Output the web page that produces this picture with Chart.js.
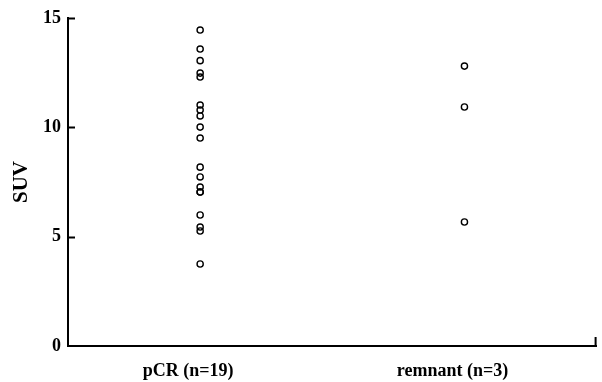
<!DOCTYPE html>
<html>
<head>
<meta charset="utf-8">
<script src="https://cdn.jsdelivr.net/npm/chart.js@4"></script>
<style>
html,body{margin:0;padding:0;background:#fff;}
#wrap{width:602px;height:382px;}
</style>
</head>
<body>
<div id="wrap"><canvas id="c" width="602" height="382"></canvas></div>
<script>
const categories = ['pCR (n=19)', 'remnant (n=3)'];
const pcrSUV = [14.45, 13.58, 13.05, 12.48, 12.30, 11.02, 10.79, 10.52, 10.01, 9.51, 8.18, 7.73, 7.27, 7.04, 7.04, 5.99, 5.44, 5.26, 3.75];
const remnantSUV = [12.80, 10.93, 5.67];
const yTicks = [0, 5, 10, 15];
const yTitle = 'SUV';

const inwardTicks = {
  id: 'inwardTicks',
  afterDraw(chart) {
    const ctx = chart.ctx, ys = chart.scales.y, ca = chart.chartArea;
    ctx.save();
    ctx.strokeStyle = '#000';
    ctx.lineWidth = 2;
    ctx.beginPath();
    yTicks.forEach(v => {
      if (v === 0) return;
      const py = Math.round(ys.getPixelForValue(v)) + 0.5;
      ctx.moveTo(ca.left, py);
      ctx.lineTo(ca.left + 7, py);
    });
    ctx.moveTo(ca.right - 1, ca.bottom);
    ctx.lineTo(ca.right - 1, ca.bottom - 9);
    ctx.stroke();
    ctx.restore();
  }
};

const font = {family: '"Liberation Serif", "Times New Roman", serif', weight: 'bold', size: 18};

new Chart(document.getElementById('c'), {
  type: 'scatter',
  data: {
    datasets: [
      {label: categories[0], data: pcrSUV.map(v => ({x: 1, y: v}))},
      {label: categories[1], data: remnantSUV.map(v => ({x: 2, y: v}))}
    ].map(d => Object.assign(d, {
      pointStyle: 'circle', pointRadius: 3.1, pointBorderWidth: 1.4,
      borderColor: '#000', backgroundColor: 'rgba(0,0,0,0)',
      pointBorderColor: '#000', pointBackgroundColor: 'rgba(0,0,0,0)'
    }))
  },
  options: {
    responsive: false,
    animation: false,
    devicePixelRatio: 1,
    layout: {padding: {top: 18, right: 1, left: 0, bottom: 0}},
    plugins: {legend: {display: false}, tooltip: {enabled: false}},
    scales: {
      x: {
        type: 'linear', min: 0.5, max: 2.5,
        afterBuildTicks(s) { s.ticks = [{value: 1}, {value: 2}]; },
        afterFit(s) { s.height = 36; },
        grid: {display: false, drawTicks: false},
        border: {display: true, color: '#000', width: 2},
        ticks: {
          color: '#000', font: font, padding: 15, labelOffset: -12,
          maxRotation: 0, autoSkip: false,
          callback: v => categories[Math.round(v) - 1]
        }
      },
      y: {
        min: 0, max: 15,
        afterBuildTicks(s) { s.ticks = yTicks.map(v => ({value: v})); },
        afterFit(s) { s.width = 68; },
        grid: {display: false, drawTicks: false},
        border: {display: true, color: '#000', width: 2},
        ticks: {color: '#000', font: font, padding: 7},
        title: {display: true, text: yTitle, color: '#000',
          font: {family: font.family, weight: 'bold', size: 21}, padding: {top: 9, bottom: 0}}
      }
    }
  },
  plugins: [inwardTicks]
});
</script>
</body>
</html>
